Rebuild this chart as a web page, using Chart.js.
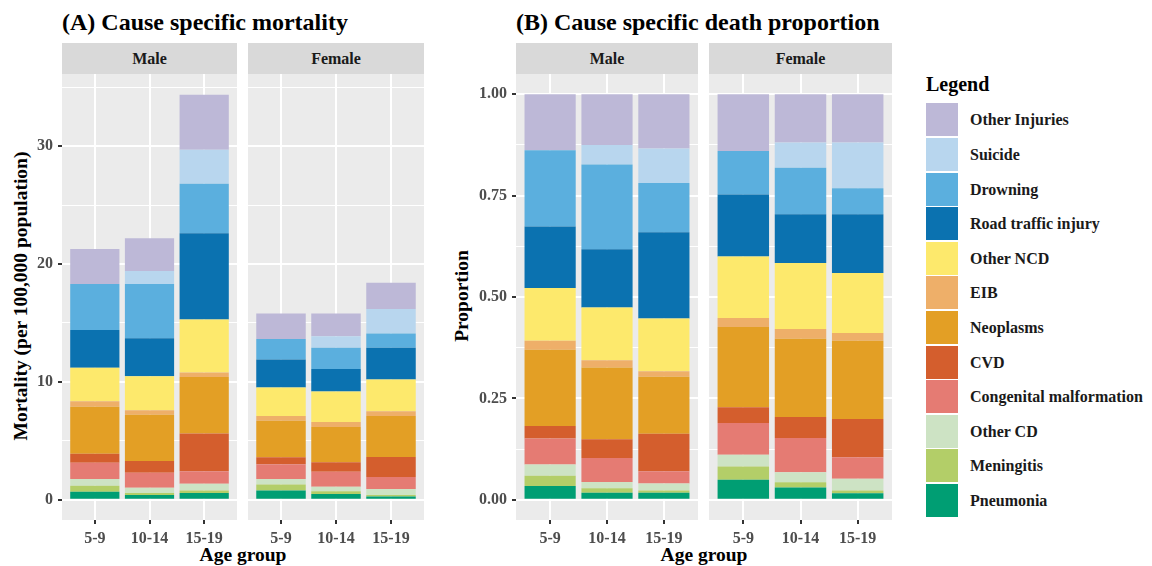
<!DOCTYPE html>
<html>
<head>
<meta charset="utf-8">
<script src="https://cdn.jsdelivr.net/npm/chart.js@4.4.1/dist/chart.umd.min.js"></script>
<style>
  body { margin: 0; width: 1152px; height: 566px; background: #fff; position: relative; overflow: hidden;
         font-family: 'Liberation Serif', 'Times New Roman', serif; font-weight: bold; }
  .abs { position: absolute; white-space: nowrap; }
  canvas { position: absolute; }
  .title { font-size: 24px; color: #000; line-height: 24px; top: 10px; }
  .strip { background: #D9D9D9; color: #1A1A1A; font-size: 16px; text-align: center; line-height: 31px; height: 31px; top: 43px; }
  .axtitle { font-size: 19.5px; color: #000; line-height: 20px; }
  .ytitle { transform: translate(-50%, -50%) rotate(-90deg); }
  .key { width: 32px; height: 33px; left: 926px; }
  .keylab { font-size: 16px; color: #1A1A1A; left: 970px; line-height: 33px; }
</style>
</head>
<body>
<div class="abs title" style="left:62px">(A) Cause specific mortality</div>
<div class="abs title" style="left:516px">(B) Cause specific death proportion</div>

<div class="abs strip" style="left:62px;width:175px">Male</div>
<div class="abs strip" style="left:248px;width:176px">Female</div>
<div class="abs strip" style="left:516px;width:182px">Male</div>
<div class="abs strip" style="left:709px;width:183px">Female</div>

<div class="abs axtitle ytitle" style="left:21px;top:296px">Mortality (per 100,000 population)</div>
<div class="abs axtitle ytitle" style="left:462px;top:296px">Proportion</div>
<div class="abs axtitle" style="left:243px;top:545px;transform:translateX(-50%)">Age group</div>
<div class="abs axtitle" style="left:704px;top:545px;transform:translateX(-50%)">Age group</div>

<canvas id="mortMale" width="237" height="492" style="left:0px;top:74px"></canvas>
<canvas id="mortFemale" width="176" height="492" style="left:248px;top:74px"></canvas>
<canvas id="propMale" width="252" height="492" style="left:446px;top:74px"></canvas>
<canvas id="propFemale" width="183" height="492" style="left:709px;top:74px"></canvas>

<div id="legend"></div>

<script>
// Groupes d'âge et causes (de bas en haut de la pile)
const ageGroups = ['5-9', '10-14', '15-19'];
const causes = ['Pneumonia', 'Meningitis', 'Other CD', 'Congenital malformation', 'CVD', 'Neoplasms',
                'EIB', 'Other NCD', 'Road traffic injury', 'Drowning', 'Suicide', 'Other Injuries'];
const causeColors = ['#009E73', '#B3CE68', '#CDE3C4', '#E57B73', '#D45E2D', '#E39F25',
                     '#EEAF69', '#FDE96C', '#0B72B0', '#5BAFDE', '#B8D6EE', '#BDB8D7'];

// Mortalité (pour 100 000) : une ligne par cause, colonnes = groupes d'âge
const mortalityMale = [
  [0.68, 0.40, 0.57], [0.51, 0.17, 0.22], [0.57, 0.45, 0.57], [1.38, 1.27, 1.05],
  [0.77, 1.00, 3.20], [3.97, 3.91, 4.81], [0.48, 0.39, 0.37], [2.83, 2.89, 4.51],
  [3.20, 3.23, 7.30], [3.91, 4.59, 4.20], [0.00, 1.10, 2.89], [2.97, 2.78, 4.67]
];
const mortalityFemale = [
  [0.79, 0.48, 0.28], [0.51, 0.23, 0.12], [0.46, 0.39, 0.51], [1.24, 1.28, 1.02],
  [0.60, 0.79, 1.70], [3.11, 3.01, 3.48], [0.40, 0.42, 0.40], [2.41, 2.58, 2.69],
  [2.38, 1.92, 2.69], [1.73, 1.79, 1.22], [0.00, 0.99, 2.07], [2.18, 1.93, 2.23]
];

// Proportion des décès
const proportionMale = [
  [0.034, 0.017, 0.017], [0.025, 0.011, 0.006], [0.028, 0.016, 0.017], [0.064, 0.059, 0.030],
  [0.031, 0.046, 0.093], [0.188, 0.177, 0.140], [0.022, 0.018, 0.014], [0.130, 0.130, 0.130],
  [0.152, 0.144, 0.213], [0.188, 0.209, 0.121], [0.000, 0.048, 0.085], [0.138, 0.125, 0.134]
];
const proportionFemale = [
  [0.049, 0.030, 0.016], [0.033, 0.013, 0.007], [0.029, 0.025, 0.029], [0.078, 0.084, 0.053],
  [0.039, 0.052, 0.094], [0.198, 0.193, 0.193], [0.022, 0.024, 0.019], [0.152, 0.163, 0.148],
  [0.153, 0.120, 0.145], [0.107, 0.115, 0.064], [0.000, 0.062, 0.113], [0.140, 0.119, 0.119]
];

// Graduations de l'axe y (majeures + mineures)
const mortalityTicks = [0, 5, 10, 15, 20, 25, 30, 35];
const mortalityMajor = [0, 10, 20, 30];
const proportionTicks = [0, 0.125, 0.25, 0.375, 0.5, 0.625, 0.75, 0.875, 1];
const proportionMajor = [0, 0.25, 0.5, 0.75, 1];

Chart.defaults.font.family = "'Liberation Serif', 'Times New Roman', serif";
Chart.defaults.font.size = 16;
Chart.defaults.font.weight = 'bold';
Chart.defaults.color = '#4D4D4D';

// Fond gris du panneau
const panelBg = {
  id: 'panelBg',
  beforeDraw(chart) {
    const a = chart.chartArea;
    chart.ctx.save();
    chart.ctx.fillStyle = '#EBEBEB';
    chart.ctx.fillRect(a.left, a.top, a.right - a.left, a.bottom - a.top);
    chart.ctx.restore();
  }
};

function drawPanel(id, rows, yMin, yMax, yTicks, yMajor, axisWidth, fmt) {
  const datasets = causes.map((cause, i) => ({
    label: cause,
    data: rows[i].map((v, j) => ({ x: j + 1, y: v })),
    backgroundColor: causeColors[i],
    borderWidth: 0,
    barPercentage: 0.9,
    categoryPercentage: 1
  }));
  const isMajor = v => yMajor.some(m => Math.abs(m - v) < 1e-9);
  const showY = axisWidth > 0;

  new Chart(document.getElementById(id), {
    type: 'bar',
    data: { datasets },
    options: {
      responsive: false,
      animation: false,
      devicePixelRatio: 1,
      layout: { padding: 0 },
      plugins: { legend: { display: false }, tooltip: { enabled: false } },
      scales: {
        x: {
          type: 'linear', min: 0.4, max: 3.6, stacked: true, offset: false,
          afterBuildTicks: s => { s.ticks = ageGroups.map((g, j) => ({ value: j + 1 })); },
          afterFit: s => { s.height = 46; s.paddingLeft = 0; s.paddingRight = 0; },
          grid: { offset: false, color: '#FFFFFF', lineWidth: 2, drawTicks: true, tickLength: 4, tickColor: '#333333', tickWidth: 2 },
          border: { display: false },
          ticks: { autoSkip: false, maxRotation: 0, padding: 5, callback: v => ageGroups[Math.round(v) - 1] }
        },
        y: {
          type: 'linear', min: yMin, max: yMax, stacked: true,
          afterBuildTicks: s => { s.ticks = yTicks.map(v => ({ value: v })); },
          afterFit: s => { s.width = axisWidth; s.paddingTop = 0; s.paddingBottom = 0; },
          grid: {
            color: '#FFFFFF',
            lineWidth: c => isMajor(c.tick.value) ? 2 : 1,
            drawTicks: showY, tickLength: 4, tickWidth: 2,
            tickColor: c => isMajor(c.tick.value) ? '#333333' : 'rgba(0,0,0,0)'
          },
          border: { display: false },
          ticks: {
            display: showY, autoSkip: false, padding: 5,
            callback: v => isMajor(v) ? fmt(v) : ''
          }
        }
      }
    },
    plugins: [panelBg]
  });
}

drawPanel('mortMale', mortalityMale, -1.72, 36.12, mortalityTicks, mortalityMajor, 62, v => String(v));
drawPanel('mortFemale', mortalityFemale, -1.72, 36.12, mortalityTicks, mortalityMajor, 0, v => String(v));
drawPanel('propMale', proportionMale, -0.05, 1.05, proportionTicks, proportionMajor, 70, v => v.toFixed(2));
drawPanel('propFemale', proportionFemale, -0.05, 1.05, proportionTicks, proportionMajor, 0, v => v.toFixed(2));

// Légende (ordre inverse : Other Injuries en haut)
const legend = document.getElementById('legend');
let html = '<div class="abs axtitle" style="left:926px;top:74px;font-size:20px;line-height:20px">Legend</div>';
causes.slice().reverse().forEach((cause, k) => {
  const i = causes.length - 1 - k;
  const top = 103.3 + k * 34.6;
  html += `<div class="abs key" style="top:${top}px;background:${causeColors[i]}"></div>`;
  html += `<div class="abs keylab" style="top:${top}px">${cause}</div>`;
});
legend.innerHTML = html;
</script>
</body>
</html>
